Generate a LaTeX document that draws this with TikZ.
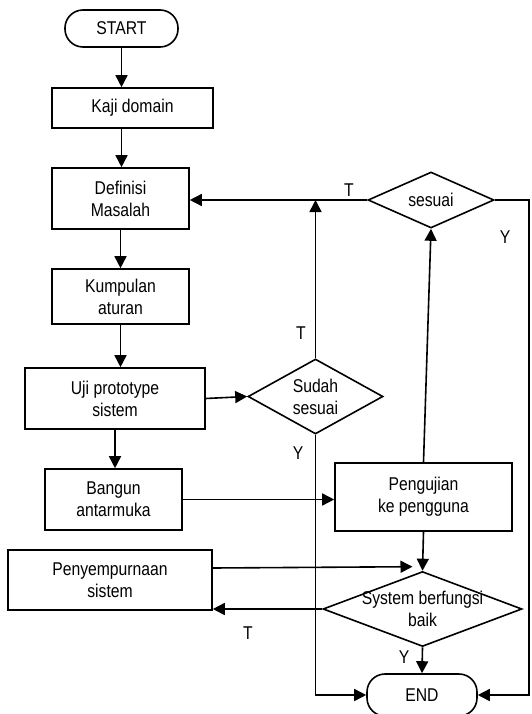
\documentclass[tikz,border=0pt]{standalone}
\usepackage{fontspec}
\setmainfont{Liberation Sans}[FakeStretch=0.85]
\usetikzlibrary{shapes.geometric,arrows.meta}
\newcommand{\flowfont}{\fontsize{18.5pt}{22pt}\selectfont}
\begin{document}
\begin{tikzpicture}[x=1pt,y=-1pt,
  font=\flowfont,
  box/.style={draw,line width=1.6pt,inner sep=0pt,align=center,font=\flowfont},
  term/.style={draw,line width=1.6pt,rounded corners=18pt,inner sep=0pt,align=center,font=\flowfont},
  dia/.style={draw,diamond,line width=1.6pt,inner sep=0pt},
  txt/.style={inner sep=0pt,align=center,font=\flowfont},
  arr/.style={line width=1.6pt,-{Triangle[length=12pt,width=12pt]}},
  lab/.style={inner sep=0pt,font=\flowfont}]
\useasboundingbox (0,0) rectangle (531,714);
\node[term,minimum width=113pt,minimum height=37pt] (start) at (121.5,28.5) {START};
\node[box,minimum width=161pt,minimum height=40pt] (kaji) at (132.5,108) {Kaji domain};
\node[box,minimum width=137pt,minimum height=61pt] (def) at (120.5,198.5) {Definisi\\Masalah};
\node[box,minimum width=137pt,minimum height=55pt] (kump) at (120.5,296.5) {Kumpulan\\aturan};
\node[box,minimum width=180pt,minimum height=61pt] (uji) at (115,398.5) {Uji prototype\\sistem};
\node[box,minimum width=137pt,minimum height=61pt] (bangun) at (113.5,499.5) {Bangun\\antarmuka};
\node[box,minimum width=177pt,minimum height=68pt] (peng) at (423.5,497) {Pengujian\\ke pengguna};
\node[box,minimum width=204pt,minimum height=60pt] (peny) at (110,580) {Penyempurnaan\\sistem};
\node[term,minimum width=110pt,minimum height=42pt] (end) at (422,695) {END};

\node[dia,minimum width=126pt,minimum height=56pt] (sesuai) at (431,200) {};
\node[txt] (tsesuai) at (sesuai) {sesuai};
\node[dia,minimum width=135pt,minimum height=75pt] (sudah) at (315.5,396.5) {};
\node[txt] (tsudah) at (sudah) {Sudah\\sesuai};
\node[dia,minimum width=199pt,minimum height=75pt] (sys) at (422.5,609) {};
\node[txt] (tsys) at (sys) {System berfungsi\\baik};

\draw[arr] (start) -- (start |- kaji.north);
\draw[arr] (start |- kaji.south) -- (start |- def.north);
\draw[arr] (def) -- (kump);
\draw[arr] (kump) -- (kump |- uji.north);
\draw[arr] (uji) -- (uji |- bangun.north);
\draw[arr] (uji.east) -- (sudah.west);
\draw[arr] (sesuai.west) -- (sesuai.west -| def.east);
\draw[arr] (sudah.north) -- (sudah.north |- sesuai.west);
\draw[arr] (peng.north) -- (sesuai.south);
\draw[arr] (bangun.east) -- (bangun.east -| peng.west);
\draw[arr] (peng.south) -- (sys.north);
\draw[arr] ([yshift=12pt]peny.east) -- ([xshift=-10pt,yshift=4pt]sys.north);
\draw[arr] (sys.west) -- (sys.west -| peny.east);
\draw[arr] (sys.south) -- (end.north);
\draw[arr] (sudah.south) |- (end.west);
\coordinate (redge) at (529,200);
\draw[arr] (sesuai.east) -- (redge) |- (end.east);

\node[lab] (l1) at (349,190) {T};
\node[lab] (l2) at (505,237) {Y};
\node[lab] (l3) at (301,333) {T};
\node[lab] (l4) at (298,453) {Y};
\node[lab] (l5) at (248,633) {T};
\node[lab] (l6) at (404,657) {Y};
\end{tikzpicture}
\end{document}
